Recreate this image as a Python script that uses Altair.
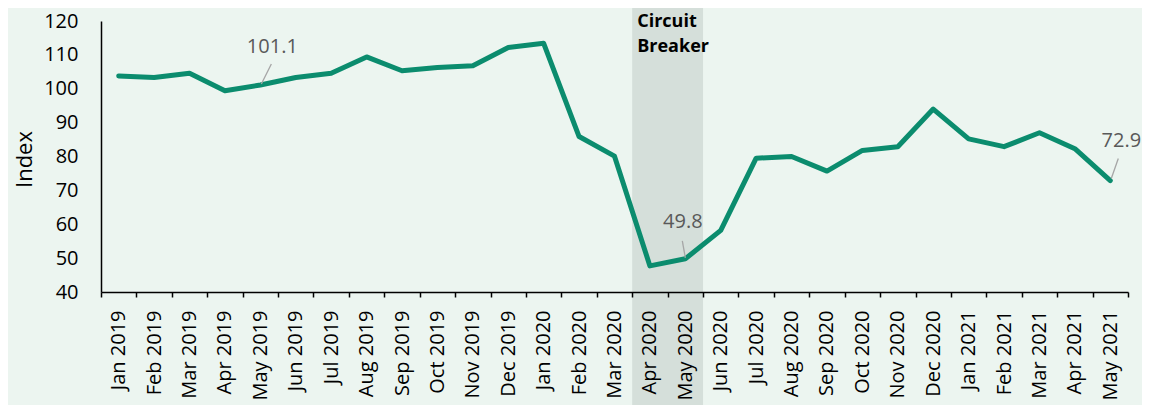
import altair as alt
import pandas as pd

months = ["Jan 2019", "Feb 2019", "Mar 2019", "Apr 2019", "May 2019", "Jun 2019",
          "Jul 2019", "Aug 2019", "Sep 2019", "Oct 2019", "Nov 2019", "Dec 2019",
          "Jan 2020", "Feb 2020", "Mar 2020", "Apr 2020", "May 2020", "Jun 2020",
          "Jul 2020", "Aug 2020", "Sep 2020", "Oct 2020", "Nov 2020", "Dec 2020",
          "Jan 2021", "Feb 2021", "Mar 2021", "Apr 2021", "May 2021"]
values = [103.8, 103.3, 104.6, 99.4, 101.1, 103.3, 104.6, 109.4, 105.3, 106.3,
          106.8, 112.2, 113.4, 85.9, 80.1, 47.7, 49.8, 58.2, 79.5, 80.0,
          75.7, 81.8, 82.9, 94.0, 85.2, 82.9, 87.0, 82.3, 72.9]
band_start = ["Apr 2020"]
band_end = ["May 2020"]
band_label = ["Circuit\nBreaker"]
note_months = ["May 2019", "May 2020", "May 2021"]
note_labels = ["101.1", "49.8", "72.9"]
y_ticks = [40, 50, 60, 70, 80, 90, 100, 110, 120]

FONT = "Open Sans"
W, H = 1027, 271
PAD = {"left": 93, "top": 13, "right": 14, "bottom": 113}

df = pd.DataFrame({"month": months, "value": values})
val_of = dict(zip(months, values))

x_scale = alt.Scale(type="band", domain=months, paddingInner=0, paddingOuter=0)
y_scale = alt.Scale(domain=[40, 120], nice=False, zero=False)

x_axis = alt.Axis(title=None, labelAngle=-90, labelFont=FONT, labelFontSize=20,
                  labelColor="#000000", labelPadding=13, tickSize=5, tickBand="extent",
                  tickColor="#000000", tickWidth=1.5, domainColor="#000000",
                  domainWidth=1.5, grid=False, zindex=1, labelOverlap=False)
y_axis = alt.Axis(title="Index", values=y_ticks, ticks=False, labelFont=FONT,
                  labelFontSize=20, labelColor="#000000", labelPadding=23,
                  domainColor="#000000", domainWidth=1.5, grid=False, zindex=1,
                  titleFont=FONT, titleFontSize=22, titleFontWeight="normal",
                  titleColor="#000000", titleX=-77, titleY=138, titleAngle=-90,
                  titleAlign="center", titleBaseline="middle")


def xenc(**kw):
    return alt.X("month:N", scale=x_scale, axis=x_axis, sort=months, **kw)


def yenc():
    return alt.Y("value:Q", scale=y_scale, axis=y_axis)


band_df = pd.DataFrame({"month": band_start, "month_end": band_end, "label": band_label})

band = alt.Chart(band_df).mark_rect(
    color="#D5DFDA", strokeWidth=0
).encode(x=xenc(bandPosition=0), x2=alt.X2("month_end:N", bandPosition=1),
         y=alt.value(-PAD["top"]), y2=alt.value(H + PAD["bottom"]))

band_text = alt.Chart(band_df).mark_text(
    align="left", baseline="alphabetic", font=FONT, fontSize=18, fontWeight="bold",
    color="#000000", lineBreak="\n", lineHeight=25, dx=5
).encode(x=xenc(bandPosition=0), y=alt.value(6), text="label:N")

line = alt.Chart(df).mark_line(
    color="#0B8C6E", strokeWidth=5, strokeJoin="round", strokeCap="round"
).encode(x=xenc(bandPosition=0.5), y=yenc())

# offsets: (rule start dx, dy), (rule end dx, dy), (text dx, dy)
offsets = [((1, -1), (11, -21), (12, -38.5)),
           ((0, -1), (-3, -18), (-2.5, -36.5)),
           ((1, -2), (8, -22), (11, -39.5))]

layers = [band, line]
for m, lab, ((sx, sy), (ex, ey), (tx, ty)) in zip(note_months, note_labels, offsets):
    nd = pd.DataFrame({"month": [m], "value": [val_of[m]], "label": [lab]})
    rule = alt.Chart(nd).mark_rule(
        color="#A6A6A6", strokeWidth=1.3, xOffset=sx, yOffset=sy, x2Offset=ex, y2Offset=ey
    ).encode(x=xenc(bandPosition=0.5), y=yenc(),
             x2=alt.X2("month:N", bandPosition=0.5), y2="value:Q")
    txt = alt.Chart(nd).mark_text(
        align="center", baseline="middle", font=FONT, fontSize=20, color="#595959",
        dx=tx, dy=ty
    ).encode(x=xenc(bandPosition=0.5), y=yenc(), text="label:N")
    layers += [rule, txt]
layers.append(band_text)

chart = alt.layer(*layers).properties(
    width=W, height=H,
    autosize=alt.AutoSizeParams(type="none"),
    padding=PAD,
    background="#ECF5F0",
).configure_view(stroke=None)

chart.save("out.html", embed_options={"renderer": "svg", "actions": False})
